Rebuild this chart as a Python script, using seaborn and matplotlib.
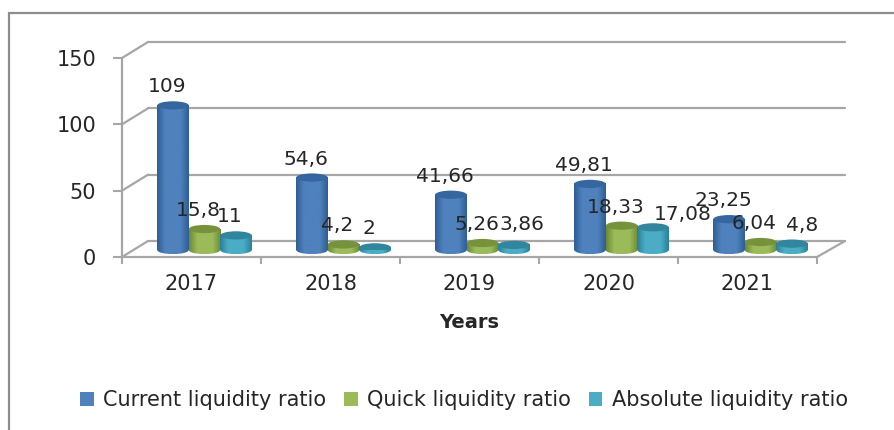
import numpy as np
import pandas as pd
import matplotlib
matplotlib.use('Agg')
import matplotlib.pyplot as plt
import seaborn as sns
from matplotlib.colors import LinearSegmentedColormap
from matplotlib.lines import Line2D
from matplotlib.patches import Ellipse, Rectangle
from matplotlib.transforms import IdentityTransform

# Values
years = ['2017', '2018', '2019', '2020', '2021']
current_ratio = [109, 54.6, 41.66, 49.81, 23.25]
quick_ratio = [15.8, 4.2, 5.26, 18.33, 6.04]
absolute_ratio = [11, 2, 3.86, 17.08, 4.8]
series_names = ['Current liquidity ratio', 'Quick liquidity ratio', 'Absolute liquidity ratio']
y_ticks = [0, 50, 100, 150]

colors = ['#4f81bd', '#9bbb59', '#4bacc6']
edge_colors = ['#2f5f96', '#6f8a35', '#2a8199']
top_colors = ['#35669f', '#76933c', '#31859c']

W, H = 894, 430
GREY = '#a6a6a6'
TEXT = '#262626'

data = pd.DataFrame({
    'year': years * 3,
    'series': np.repeat(series_names, len(years)),
    'value': current_ratio + quick_ratio + absolute_ratio,
})


def px_axes(left, top, right, bottom):
    return fig.add_axes([left / W, 1 - bottom / H, (right - left) / W, (bottom - top) / H])


sns.set_theme(style='white')
plt.rcParams['font.family'] = ['DejaVu Sans']
plt.rcParams['text.color'] = TEXT

fig = plt.figure(figsize=(W / 100, H / 100), dpi=100, facecolor='white')

# outer chart border
fig.add_artist(Rectangle((9 / W, -0.1), 1.1, 1.1 - 13 / H, transform=fig.transFigure,
                         fill=False, edgecolor='#8c8c8c', linewidth=1.6))

# back wall, front axes and the plane the bars stand on
back = px_axes(148, 42, 845, 241)
ax = px_axes(122, 58, 817, 257)
bars = px_axes(135, 51, 830, 250)

for a in (back, ax, bars):
    a.set_xlim(-0.5, 4.5)
    a.set_ylim(0, 150)
    a.patch.set_alpha(0)

back.set_xticks([])
back.set_yticks([])
for t in y_ticks:
    back.axhline(t, color=GREY, linewidth=1.6, clip_on=False)
sns.despine(ax=back, left=True, bottom=True)

ax.set_yticks(y_ticks)
ax.set_yticklabels([str(t) for t in y_ticks], fontsize=15, color=TEXT)
ax.set_xticks(range(len(years)))
ax.set_xticklabels(years, fontsize=15, color=TEXT)
ax.set_xticks(np.arange(len(years) + 1) - 0.5, minor=True)
ax.tick_params(axis='x', which='major', bottom=False, length=0, pad=12)
ax.tick_params(axis='x', which='minor', bottom=True, length=5, width=1.5, color=GREY, direction='out')
ax.tick_params(axis='y', left=True, length=6.5, width=1.5, color=GREY, direction='out', pad=12)
ax.set_xlabel('Years', fontsize=14, fontweight='bold', labelpad=14, color=TEXT)
sns.despine(ax=ax)
for side in ('left', 'bottom'):
    ax.spines[side].set_color(GREY)
    ax.spines[side].set_linewidth(1.6)

# perspective lines between the front axis and the back wall
for t in y_ticks:
    p0 = ax.transData.transform((-0.5, t))
    p1 = back.transData.transform((-0.5, t))
    fig.add_artist(Line2D([p0[0], p1[0]], [p0[1], p1[1]], transform=IdentityTransform(),
                          color=GREY, linewidth=1.6))
p0 = ax.transData.transform((4.5, 0))
p1 = back.transData.transform((4.5, 0))
fig.add_artist(Line2D([p0[0], p1[0]], [p0[1], p1[1]], transform=IdentityTransform(),
                      color=GREY, linewidth=1.6))

sns.barplot(data=data, x='year', y='value', hue='series', hue_order=series_names,
            palette=colors, width=0.68, gap=0, saturation=1, legend=False, ax=bars)
bars.axis('off')

# make the bars look like cylinders
cap_h = 6.2
px = 0.72  # pixels to points
shade = np.linspace(0, 1, 40).reshape(1, -1)
label_nudge = {('Absolute liquidity ratio', '2019'): (8, 20),
               ('Absolute liquidity ratio', '2020'): (30, 13),
               ('Absolute liquidity ratio', '2021'): (10, 18.5)}
for s, (name, container) in enumerate(zip(series_names, bars.containers)):
    cmap = LinearSegmentedColormap.from_list(
        'cyl', [edge_colors[s], colors[s], colors[s], colors[s], edge_colors[s]])
    for i, patch in enumerate(container):
        x0, w, h = patch.get_x(), patch.get_width(), patch.get_height()
        xc = x0 + w / 2
        patch.set_visible(False)
        z = 3 + s
        # rounded foot of the cylinder, shaded like the body
        foot = Ellipse((xc, 0), w, cap_h, facecolor='none', edgecolor='none', clip_on=False)
        bars.add_patch(foot)
        foot_img = bars.imshow(shade, extent=[x0, x0 + w, -cap_h / 2, 0], aspect='auto',
                               cmap=cmap, zorder=z, interpolation='bilinear')
        foot_img.set_clip_box(fig.bbox)
        foot_img.set_clip_path(foot)
        bars.imshow(shade, extent=[x0, x0 + w, 0, h], aspect='auto',
                    cmap=cmap, zorder=z, interpolation='bilinear')
        bars.add_patch(Ellipse((xc, h), w, cap_h, facecolor=top_colors[s],
                               edgecolor='none', zorder=z + 0.5))
        dx, dy = label_nudge.get((name, years[i]), (-6, 18.5))
        bars.annotate(f'{h:g}'.replace('.', ','), (xc, h), xytext=(dx * px, dy * px),
                      textcoords='offset points', ha='center', va='center',
                      fontsize=14.5, color=TEXT, zorder=10)
bars.set_xlim(-0.5, 4.5)
bars.set_ylim(0, 150)

handles = [Rectangle((0, 0), 1, 1, facecolor=c, edgecolor='none') for c in colors]
fig.legend(handles, series_names, loc='center', bbox_to_anchor=(464 / W, 1 - 400 / H), ncol=3,
           frameon=False, fontsize=15, handlelength=0.65, handleheight=0.65,
           handletextpad=0.45, columnspacing=0.85, labelcolor=TEXT)

fig.savefig('out.png', dpi=100)
